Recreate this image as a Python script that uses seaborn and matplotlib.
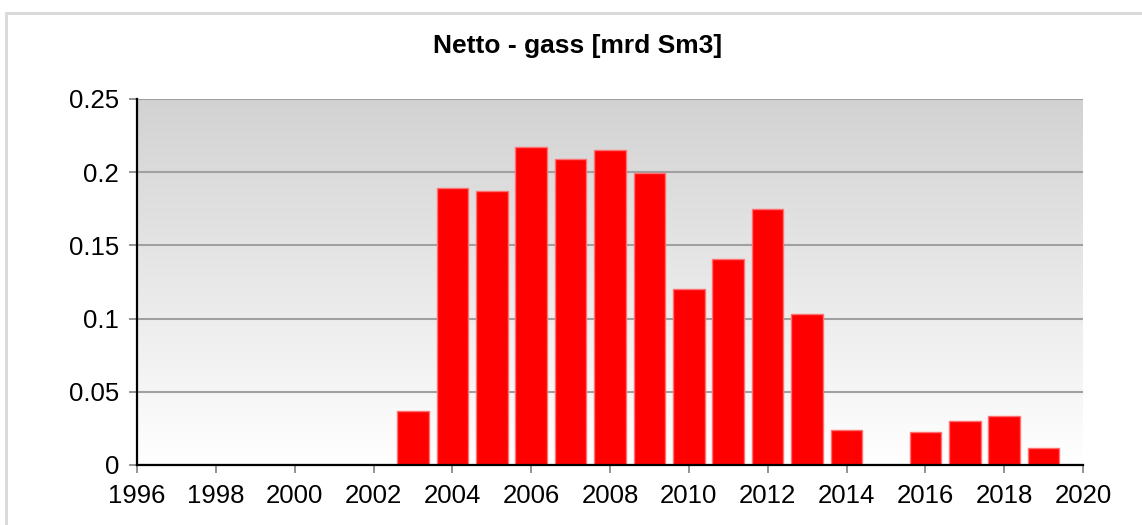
import numpy as np
import matplotlib
matplotlib.use('Agg')
import matplotlib.pyplot as plt
import seaborn as sns
from matplotlib.patches import Rectangle

# Netto gass per year [mrd Sm3]
years = [2003, 2004, 2005, 2006, 2007, 2008, 2009, 2010, 2011,
         2012, 2013, 2014, 2015, 2016, 2017, 2018, 2019]
netto_gass = [0.037, 0.189, 0.187, 0.217, 0.209, 0.215, 0.1995, 0.120, 0.141,
              0.175, 0.103, 0.024, 0.0, 0.0228, 0.0303, 0.0335, 0.0114]
x_ticks = list(range(1996, 2021, 2))
y_ticks = [0, 0.05, 0.1, 0.15, 0.2, 0.25]
y_tick_labels = ['0', '0.05', '0.1', '0.15', '0.2', '0.25']

sns.set_style('white')
plt.rcParams['font.family'] = ['Liberation Sans', 'DejaVu Sans']

fig = plt.figure(figsize=(11.42, 5.25), dpi=100)
# light outer frame
fig.patches.append(Rectangle((6 / 1142, -0.1), 1.2, (525 - 13) / 525 + 0.1,
                             transform=fig.transFigure, fill=False,
                             edgecolor='#d8d8d8', linewidth=2))
ax = fig.add_axes([137 / 1142, 60 / 525, 946 / 1142, 366 / 525])

# gray-to-white gradient background
grad = np.linspace(0, 1, 256).reshape(-1, 1)
cmap = matplotlib.colors.LinearSegmentedColormap.from_list('bg', ['#ffffff', '#d2d2d2'])
ax.imshow(grad, aspect='auto', cmap=cmap, origin='lower',
          extent=[0, 1, 0, 1], transform=ax.transAxes, zorder=0)

sns.barplot(x=years, y=netto_gass, native_scale=True, width=0.8,
            color='#ff0000', edgecolor='#ff7070', linewidth=1,
            saturation=1, ax=ax, zorder=3)

ax.set_xlim(1996, 2020)
ax.set_ylim(0, 0.25)
ax.set_xticks(x_ticks)
ax.set_xticklabels([str(t) for t in x_ticks])
ax.set_yticks(y_ticks)
ax.set_yticklabels(y_tick_labels)
ax.yaxis.grid(True, color='#a0a0a0', linewidth=1.5, zorder=1)
ax.set_axisbelow(True)
for b in ax.patches:
    b.set_zorder(3)

for s in ['top', 'right']:
    ax.spines[s].set_visible(False)
ax.spines['left'].set_color('black')
ax.spines['left'].set_linewidth(1.6)
ax.spines['bottom'].set_color('black')
ax.spines['bottom'].set_linewidth(1.6)
ax.spines['left'].set_zorder(4)
ax.spines['bottom'].set_zorder(4)

ax.tick_params(axis='both', which='both', direction='out', length=6,
               width=1.2, color='#808080', labelsize=18.5,
               labelcolor='black', bottom=True, left=True)
ax.tick_params(axis='y', pad=7)
ax.tick_params(axis='x', pad=8)
ax.set_xlabel('')
ax.set_ylabel('')

fig.text(578 / 1142, 1 - 46 / 525, 'Netto - gass [mrd Sm3]', ha='center',
         va='center', fontsize=19, fontweight='bold', color='black')

fig.savefig('out.png', dpi=100)
plt.close(fig)
